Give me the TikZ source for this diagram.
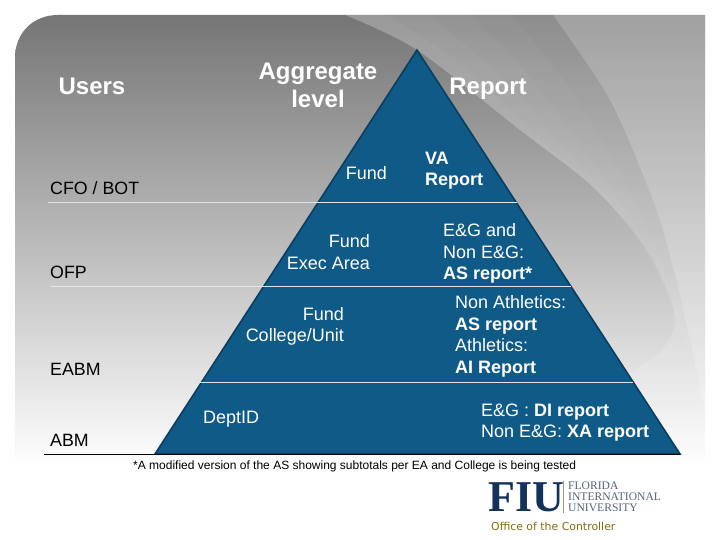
\documentclass[tikz,border=0pt]{standalone}
\usepackage{fontspec}
\setmainfont{Liberation Sans}
\newfontfamily\logoserif{Liberation Serif}
\newfontfamily\officefont{DejaVu Sans}
\usetikzlibrary{calc}
\definecolor{pyrfill}{RGB}{15,90,135}
\definecolor{pyredge}{RGB}{9,62,97}
\definecolor{fiunavy}{RGB}{18,50,92}
\definecolor{fiugray}{RGB}{85,100,125}
\definecolor{fiugold}{RGB}{176,150,90}
\definecolor{officecol}{RGB}{130,110,20}
\definecolor{rulelight}{RGB}{225,228,235}
\tikzset{
  head/.style={inner sep=0pt,text=white,font=\fontsize{24}{28}\selectfont\bfseries,align=center},
  inpyr/.style={inner sep=0pt,text=white,font=\fontsize{18}{21.6}\selectfont},
  user/.style={inner sep=0pt,anchor=west,text=black,font=\fontsize{17.8}{21}\selectfont},
  levelline/.style={draw=rulelight,line width=0.8pt},
}
\begin{document}
\begin{tikzpicture}[x=1pt,y=-1pt]
\useasboundingbox (0,0) rectangle (720,540);
\fill[white] (0,0) rectangle (720,540);
% background panel
\begin{scope}
  \clip (15,470) -- (15,58) .. controls (15,33) and (33,15) .. (58,15) -- (705,15) -- (705,470) -- cycle;
  \shade[top color=black!54,bottom color=white,shading angle=0] (15,15) rectangle (705,467);
  % lighter area beyond the first curve
  \fill[white,opacity=.15] plot[smooth] coordinates {(345,15) (417,50) (520,130) (593,187) (647,250) (675,315) (662,350) (630,373)} -- (640,470) -- (720,470) -- (720,0) -- (345,0) -- cycle;
  % soft gradient between the two curves
  \foreach \t in {.2,.4,.6,.8,1}{
    \fill[white,opacity=.03] plot[smooth] coordinates {(345,15) (417,50) (520,130) (593,187) (647,250) (675,315)}
      -- plot[smooth] coordinates {($(675,315)!\t!(700,390)$) ($(647,250)!\t!(690,340)$) ($(593,187)!\t!(673,267)$) ($(520,130)!\t!(653,200)$) ($(417,50)!\t!(610,100)$) ($(345,15)!\t!(553,15)$)} -- cycle;
  }
  % lightest area beyond the second curve
  \fill[white,opacity=.2] plot[smooth] coordinates {(553,15) (610,100) (653,200) (673,267) (690,340) (700,390)} -- (720,470) -- (720,0) -- (553,0) -- cycle;
\end{scope}
% pyramid
\coordinate (apex) at (417,50);
\coordinate (bl) at (155,454);
\coordinate (br) at (680,454);
\fill[pyrfill,draw=pyredge,line width=1.6pt,line join=miter] (apex) -- (bl) -- (br) -- cycle;
% level lines
\coordinate (a1) at (48,202.5); \coordinate (a2) at (517,202.5);
\coordinate (b1) at (50,286.5); \coordinate (b2) at (571,286.5);
\coordinate (c1) at (48,382.5); \coordinate (c2) at (633,382.5);
\coordinate (d1) at (44,454.5); \coordinate (d2) at (680,454.5);
\draw[levelline] (a1) -- (a2);
\draw[levelline] (b1) -- (b2);
\draw[levelline] (c1) -- (c2);
\draw[black,line width=1pt] (d1) -- (d2);
% headers
\node[head] (users) at (92,86) {Users};
\node[head] (agg) at (318,85) {Aggregate\\level};
\node[head] (rep) at (488,88.5) {Report};
% users
\node[user] (cfo) at (50,188) {CFO / BOT};
\node[user] (ofp) at (50,272) {OFP};
\node[user] (eabm) at (50,369) {EABM};
\node[user] (abm) at (50,440) {ABM};
% aggregate levels
\node[inpyr,anchor=east] (fund) at (387,173) {Fund};
\node[inpyr,anchor=east,align=right] (exec) at (370,252) {Fund\\Exec Area};
\node[inpyr,anchor=east,align=right] (coll) at (344,326.5) {Fund\\College/Unit};
\node[inpyr,anchor=west] (dept) at (203,419) {DeptID};
% reports
\node[inpyr,anchor=west,align=left] (va) at (425,170.5) {\bfseries VA\\\bfseries Report};
\node[inpyr,anchor=west,align=left] (eg) at (443,253.5) {E\&G and\\Non E\&G:\\\bfseries AS report*};
\node[inpyr,anchor=west,align=left] (nonath) at (455,336.5) {Non Athletics:\\\bfseries AS report\\Athletics:\\\bfseries AI Report};
\node[inpyr,anchor=west,align=left] (di) at (481,422.5) {E\&G : \textbf{DI report}\\Non E\&G: \textbf{XA report}};
% footnote
\node[inner sep=0pt,anchor=west,font=\fontsize{12}{14}\selectfont] (note) at (133,466) {*A modified version of the AS showing subtotals per EA and College is being tested};
% logo
\node[inner sep=0pt,anchor=west,text=fiunavy,font=\logoserif\fontsize{44}{44}\selectfont\bfseries] (fiu) at (488,497) {FIU};
\coordinate (g1) at (563.5,481); \coordinate (g2) at (563.5,513);
\draw[fiugold,line width=1pt] (g1) -- (g2);
\node[inner sep=0pt,anchor=west,align=left,text=fiugray,font=\logoserif\fontsize{11.6}{10.8}\selectfont] (fiutext) at (568,497) {FLORIDA\\INTERNATIONAL\\UNIVERSITY};
\node[inner sep=0pt,anchor=west,text=officecol,font=\officefont\fontsize{10.9}{14}\selectfont] (office) at (491,526) {Office of the Controller};
\end{tikzpicture}
\end{document}
